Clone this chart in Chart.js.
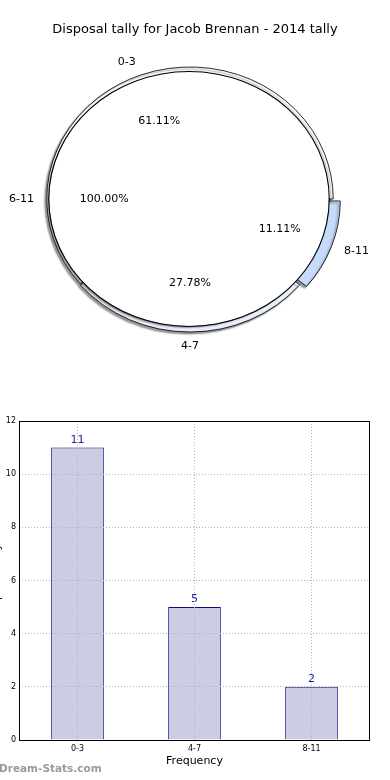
<!DOCTYPE html>
<html>
<head>
<meta charset="utf-8">
<script src="https://cdn.jsdelivr.net/npm/chart.js@4.4.1/dist/chart.umd.min.js"></script>
<style>
  html, body { margin: 0; padding: 0; background: #fff; }
  body { width: 390px; height: 780px; position: relative; overflow: hidden; }
  .pie-box { position: absolute; left: 0; top: 0; width: 390px; height: 380px; }
  .pie-box canvas { position: absolute; left: 0; top: 0; }
  .bar-box { position: absolute; left: -10px; top: 405px; width: 400px; height: 375px; }
  .watermark { position: absolute; left: -1px; top: 762px; font: bold 10.5px "DejaVu Sans", sans-serif; color: #9a9a9a; }
</style>
</head>
<body>
<div class="pie-box">
  <canvas id="slices" width="390" height="380"></canvas>
  <canvas id="total" width="390" height="380"></canvas>
</div>
<div class="bar-box">
  <canvas id="bars" width="400" height="375"></canvas>
</div>
<div class="watermark">Dream-Stats.com</div>

<script>
// chart data
const categories = ['0-3', '4-7', '8-11'];
const tallies = [11, 5, 2];
const sliceColors = ['#ffffff', '#e8eefc', '#c6dafc'];
const sliceOffsets = [0, 4, 20];
const totalCategories = ['6-11'];
const totalTallies = [1];
const yTicks = [0, 2, 4, 6, 8, 10, 12];

const chartTitle = 'Disposal tally for Jacob Brennan - 2014 tally';

Chart.defaults.font.family = '"DejaVu Sans", sans-serif';
Chart.defaults.color = '#000';

// both pies are drawn as slightly wide ellipses
const slicesGeom = { cx: 190, cy: 199, sx: 1.085 };
const totalGeom = { cx: 189, cy: 199, sx: 1.1 };

function toPage(chart, geom, x, y) {
    const c = chart.getDatasetMeta(0).data[0];
    return { x: geom.cx + (x - c.x) * geom.sx, y: geom.cy + (y - c.y) };
}

// stretch + drop shadow for the dataset given in shadowIndex
function ellipsePlugin(geom, shadowIndex) {
    return {
        id: 'ellipse',
        beforeDatasetsDraw(chart) {
            const ctx = chart.ctx;
            const c = chart.getDatasetMeta(0).data[0];
            ctx.save();
            ctx.translate(geom.cx, geom.cy);
            ctx.scale(geom.sx, 1);
            ctx.translate(-c.x, -c.y);
        },
        beforeDatasetDraw(chart, args) {
            const ctx = chart.ctx;
            ctx.save();
            if (args.index === shadowIndex) {
                ctx.shadowColor = 'rgba(50,50,50,0.5)';
                ctx.shadowOffsetX = -2;
                ctx.shadowOffsetY = 2;
                ctx.shadowBlur = 1.5;
            }
        },
        afterDatasetDraw(chart) {
            chart.ctx.restore();
        },
        afterDatasetsDraw(chart) {
            chart.ctx.restore();
        }
    };
}

// label text next to each wedge plus its percentage inside
function drawWedgeLabels(ctx, chart, geom, nameR, pctR) {
    const meta = chart.getDatasetMeta(0);
    const data = chart.data.datasets[0].data;
    const total = data.reduce((a, b) => a + b, 0);
    meta.data.forEach((arc, i) => {
        const mid = (arc.startAngle + arc.endAngle) / 2;
        const shift = (arc.options.offset || 0) / 4;
        const at = r => toPage(chart, geom, arc.x + Math.cos(mid) * r, arc.y + Math.sin(mid) * r);
        const cos = Math.cos(mid);
        const p = at(nameR + shift);
        ctx.textAlign = Math.abs(cos) < 0.1 ? 'center' : (cos > 0 ? 'left' : 'right');
        ctx.fillText(chart.data.labels[i], p.x, p.y);
        const q = at(pctR + shift);
        ctx.textAlign = 'center';
        ctx.fillText((data[i] / total * 100).toFixed(2) + '%', q.x, q.y);
    });
}

// outer wedges (drawn anticlockwise from 3 o'clock like the original, so order is reversed)
const order = categories.map((_, i) => i).reverse();

const slicesChart = new Chart(document.getElementById('slices'), {
    type: 'pie',
    data: {
        labels: order.map(i => categories[i]),
        datasets: [{
            data: order.map(i => tallies[i]),
            backgroundColor: order.map(i => sliceColors[i]),
            offset: order.map(i => sliceOffsets[i]),
            borderColor: '#000',
            borderWidth: 0.8,
            clip: false
        }]
    },
    options: {
        responsive: false,
        animation: false,
        radius: 132,
        rotation: 90,
        events: [],
        plugins: {
            legend: { display: false },
            tooltip: { enabled: false },
            title: {
                display: true,
                text: chartTitle,
                font: { size: 13, weight: 'normal' },
                color: '#000',
                padding: { top: 22, bottom: 0 }
            }
        }
    },
    plugins: [ellipsePlugin(slicesGeom, 0)]
});

// the full 100% pie laid over the wedges: a thin black ring as its outline and a white fill
new Chart(document.getElementById('total'), {
    type: 'pie',
    data: {
        labels: totalCategories,
        datasets: [{
            data: totalTallies,
            backgroundColor: '#000',
            borderWidth: 0,
            weight: 1,
            clip: false
        }, {
            data: totalTallies,
            backgroundColor: '#fff',
            borderWidth: 0,
            weight: 127,
            clip: false
        }]
    },
    options: {
        responsive: false,
        animation: false,
        radius: 128,
        rotation: 90,
        events: [],
        plugins: {
            legend: { display: false },
            tooltip: { enabled: false }
        }
    },
    plugins: [ellipsePlugin(totalGeom, 1), {
        id: 'pieLabels',
        afterDraw(chart) {
            const ctx = chart.ctx;
            ctx.save();
            ctx.font = '11px "DejaVu Sans", sans-serif';
            ctx.fillStyle = '#000';
            ctx.textBaseline = 'middle';
            drawWedgeLabels(ctx, slicesChart, slicesGeom, 146, 83);
            drawWedgeLabels(ctx, chart, totalGeom, 141, 77);
            ctx.restore();
        }
    }]
});

// bar chart
const barExtras = {
    id: 'barExtras',
    afterDatasetsDraw(chart) {
        const ctx = chart.ctx;
        const meta = chart.getDatasetMeta(0);
        ctx.save();
        ctx.font = '11px "DejaVu Sans", sans-serif';
        ctx.fillStyle = '#1c2499';
        ctx.textAlign = 'center';
        ctx.textBaseline = 'bottom';
        meta.data.forEach((bar, i) => {
            ctx.fillText(String(chart.data.datasets[0].data[i]), bar.x, bar.y - 2);
        });
        ctx.restore();
    },
    afterDraw(chart) {
        const a = chart.chartArea;
        const ctx = chart.ctx;
        ctx.save();
        ctx.strokeStyle = '#000';
        ctx.lineWidth = 1;
        ctx.strokeRect(Math.round(a.left) + 0.5, Math.round(a.top) + 0.5,
            Math.round(a.right - a.left) - 1, Math.round(a.bottom - a.top));
        ctx.restore();
    }
};

new Chart(document.getElementById('bars'), {
    type: 'bar',
    data: {
        labels: categories,
        datasets: [{
            data: tallies,
            backgroundColor: '#ccccE5',
            borderColor: '#0c0c80',
            borderWidth: 1,
            barPercentage: 0.45,
            categoryPercentage: 1
        }]
    },
    options: {
        responsive: false,
        animation: false,
        events: [],
        layout: { padding: { top: 16, right: 20, bottom: 12, left: 0 } },
        plugins: {
            legend: { display: false },
            tooltip: { enabled: false }
        },
        scales: {
            x: {
                grid: { offset: false, color: '#b4b4b4', drawTicks: false, z: 1 },
                border: { display: false, dash: [1, 2] },
                ticks: { font: { size: 8 }, padding: 4, color: '#000' },
                title: {
                    display: true,
                    text: 'Frequency',
                    font: { size: 11 },
                    color: '#000',
                    padding: { top: 0, bottom: 0 }
                },
                afterFit(scale) { scale.height = 28; }
            },
            y: {
                min: yTicks[0],
                max: yTicks[yTicks.length - 1],
                afterBuildTicks(scale) { scale.ticks = yTicks.map(v => ({ value: v })); },
                grid: { color: '#b4b4b4', drawTicks: false, z: 1 },
                border: { display: false, dash: [1, 2] },
                ticks: { font: { size: 8 }, padding: 3, color: '#000' },
                title: {
                    display: true,
                    text: 'Disposal tally',
                    font: { size: 11 },
                    color: '#000',
                    padding: { top: 1, bottom: 0 }
                },
                afterFit(scale) { scale.width = 29; }
            }
        }
    },
    plugins: [barExtras]
});
</script>
</body>
</html>
